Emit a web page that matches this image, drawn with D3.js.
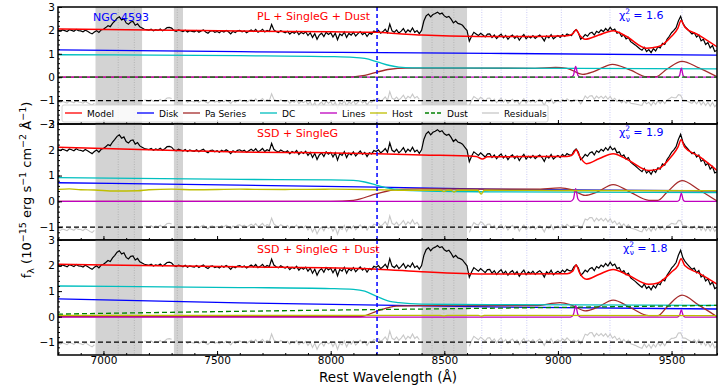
<!DOCTYPE html>
<html>
<head>
<meta charset="utf-8">
<script src="https://cdn.jsdelivr.net/npm/d3@7"></script>
<style>
  body { margin: 0; background: #fff; }
  text { font-family: "DejaVu Sans", sans-serif; }
</style>
</head>
<body>
<div id="chart"></div>
<script>
// observed spectrum, 10 A steps from 6800 A
var fluxStart = 6800, fluxStep = 10;
var flux = [
  2.00,1.97,2.02,1.99,1.95,2.03,2.00,1.96,2.04,1.99,
  1.98,1.94,2.01,1.96,1.90,1.85,1.93,1.99,1.91,2.02,
  2.05,2.12,2.20,2.16,2.30,2.40,2.52,2.58,2.45,2.50,
  2.32,2.26,2.36,2.38,2.22,2.28,2.15,2.10,2.05,2.03,
  2.01,2.05,1.98,2.03,2.00,2.06,1.98,2.04,2.12,2.13,
  2.10,2.00,1.96,2.02,1.99,1.95,2.01,1.93,1.99,1.96,
  1.94,2.00,1.92,1.98,2.02,1.93,1.88,1.97,1.99,1.92,
  1.96,1.90,1.98,1.93,2.00,1.94,1.85,1.96,1.91,1.98,
  2.00,1.94,1.98,1.90,1.96,2.02,1.95,2.04,1.92,1.97,
  2.05,1.93,2.00,1.96,2.25,2.02,1.95,1.91,1.99,1.94,
  1.90,1.96,1.84,1.93,1.88,1.97,1.82,1.92,1.86,1.94,
  1.78,1.90,1.70,1.86,1.62,1.80,1.88,1.74,1.92,1.83,
  1.90,1.72,1.88,1.60,1.85,1.78,1.93,1.70,1.87,1.80,
  1.92,1.76,1.86,1.95,1.82,1.90,1.74,1.88,1.84,1.97,
  1.93,2.00,1.88,1.95,2.05,1.90,2.27,1.98,1.92,2.02,
  1.88,1.97,2.08,1.90,2.02,1.94,2.10,1.92,1.99,1.86,
  2.00,2.40,2.62,2.70,2.58,2.68,2.72,2.78,2.70,2.74,
  2.62,2.56,2.60,2.48,2.32,2.40,2.30,2.27,2.22,2.10,
  1.99,1.54,1.75,1.92,1.85,1.78,1.88,1.80,1.72,1.84,
  1.85,1.70,1.80,1.65,1.76,1.84,1.68,1.78,1.62,1.74,
  1.80,1.66,1.76,1.58,1.72,1.82,1.64,1.75,1.68,1.78,
  1.66,1.74,1.80,1.70,1.55,1.76,1.68,1.82,1.64,1.72,
  1.78,1.70,1.82,1.74,1.85,1.80,1.78,1.95,2.03,1.90,
  1.62,1.70,1.82,1.75,1.88,1.92,1.80,1.96,1.90,2.02,
  1.95,2.08,1.98,2.13,2.00,2.06,1.88,1.92,1.74,1.80,
  1.64,1.70,1.52,1.45,1.38,1.30,1.22,1.15,1.28,1.10,
  1.18,1.05,1.22,1.12,1.30,1.25,1.45,1.40,1.62,1.75,
  1.90,2.00,2.12,2.40,2.60,2.30,2.15,2.05,1.95,1.85,
  1.90,1.72,1.80,1.55,1.62,1.40,1.48,1.25,1.35,1.10,
  1.15
];

var maskBands = [[6965, 7170], [7310, 7350], [8400, 8600]];
var maskLines = [7065, 7136, 7325, 8446, 8498, 8542];
var paschenLines = [8665, 8750, 8863, 9015, 9229, 9546];
var paschenEdge = 8204;

var panelNames = ["PL + SingleG + Dust", "SSD + SingleG", "SSD + SingleG + Dust"];
var chiValues = ["1.6", "1.9", "1.8"];
var yDomains = [[-2, 3], [-1.5, 3], [-1.5, 3]];
var yTicks = [[-2, -1, 0, 1, 2, 3], [-1, 0, 1, 2, 3], [-1, 0, 1, 2, 3]];
var xTicks = [7000, 7500, 8000, 8500, 9000, 9500];

// fit components, [wavelength, flux] knots per panel
var model1 = [[6800,2.06],[7200,2.02],[7600,1.97],[8000,1.94],[8200,1.92],[8300,1.86],[8400,1.80],[8650,1.74],[8900,1.74],[9040,1.77],[9065,1.85],[9080,2.03],[9095,1.80],[9120,1.62],[9180,1.80],[9243,1.99],[9300,1.75],[9390,1.24],[9440,1.30],[9500,1.75],[9528,2.10],[9542,2.42],[9558,2.15],[9620,1.80],[9700,1.30]];
var disk1 = [[6800,1.17],[7600,1.09],[8700,1.02],[9700,0.94]];
var dc1 = [[6800,0.96],[7600,0.92],[8000,0.88],[8100,0.85],[8150,0.80],[8204,0.66],[8260,0.50],[8300,0.43],[8360,0.40],[9700,0.36]];
var pa1 = [[6800,0],[8050,0],[8150,0.08],[8204,0.22],[8260,0.34],[8330,0.39],[8900,0.38],[8990,0.42],[9040,0.38],[9110,0.12],[9160,0.25],[9240,0.55],[9320,0.30],[9390,0.02],[9430,0.02],[9480,0.35],[9546,0.68],[9620,0.40],[9700,0.02]];
var lines1 = [[6800,0],[9055,0],[9068,0.08],[9078,0.46],[9088,0.08],[9100,0],[9525,0],[9535,0.07],[9543,0.39],[9551,0.07],[9560,0],[9700,0]];
var dust1 = [[6800,0],[9700,0]];

var model2 = [[6800,2.10],[7200,2.00],[7600,1.91],[8000,1.88],[8204,1.85],[8400,1.80],[8640,1.74],[8668,1.64],[8690,1.73],[9040,1.74],[9065,1.82],[9080,2.00],[9095,1.75],[9125,1.46],[9180,1.65],[9243,1.85],[9310,1.60],[9400,1.20],[9440,1.25],[9500,1.75],[9528,2.10],[9542,2.39],[9558,2.10],[9620,1.75],[9700,1.20]];
var disk2 = [[6800,0.72],[7600,0.63],[8204,0.55],[8700,0.47],[9700,0.40]];
var dc2 = [[6800,0.92],[7600,0.85],[8000,0.83],[8100,0.81],[8150,0.75],[8204,0.62],[8260,0.50],[8300,0.45],[8360,0.42],[8700,0.37],[9700,0.34]];
var pa2 = [[6800,0],[8000,0],[8100,0.04],[8204,0.30],[8290,0.46],[8400,0.48],[8900,0.47],[9010,0.52],[9060,0.45],[9120,0.23],[9170,0.35],[9243,0.65],[9320,0.35],[9400,0.04],[9440,0.04],[9480,0.35],[9546,0.80],[9620,0.45],[9700,0.01]];
var lines2 = [[6800,0],[9055,0],[9068,0.09],[9078,0.49],[9088,0.09],[9100,0],[9525,0],[9535,0.06],[9543,0.32],[9551,0.06],[9560,0],[9700,0]];
var host2 = [[6800,0.46],[6850,0.48],[6900,0.45],[6960,0.44],[7050,0.40],[7150,0.41],[7200,0.45],[7300,0.47],[7400,0.45],[7600,0.47],[7800,0.46],[8000,0.47],[8200,0.45],[8300,0.43],[8485,0.43],[8498,0.38],[8512,0.43],[8530,0.43],[8542,0.36],[8556,0.43],[8648,0.43],[8662,0.28],[8676,0.43],[9000,0.42],[9700,0.41]];

var model3 = [[6800,2.05],[7600,1.95],[8204,1.86],[8400,1.76],[8700,1.67],[9040,1.68],[9065,1.78],[9080,2.02],[9095,1.72],[9125,1.46],[9180,1.65],[9243,1.85],[9310,1.62],[9400,1.27],[9440,1.32],[9500,1.75],[9528,2.00],[9542,2.27],[9558,2.00],[9620,1.70],[9700,1.27]];
var disk3 = [[6800,0.70],[7600,0.54],[8700,0.38],[9700,0.30]];
var dc3 = [[6800,1.20],[7600,1.14],[8000,1.10],[8100,1.07],[8150,1.00],[8204,0.79],[8260,0.60],[8300,0.55],[8400,0.49],[8700,0.47],[9700,0.44]];
var pa3 = [[6800,0],[8130,0],[8204,0.22],[8290,0.41],[8400,0.43],[8900,0.43],[9010,0.55],[9060,0.45],[9120,0.23],[9170,0.35],[9243,0.65],[9320,0.35],[9400,0.04],[9440,0.04],[9480,0.38],[9546,0.84],[9620,0.45],[9700,0]];
var lines3 = [[6800,-0.02],[9055,-0.02],[9068,0.08],[9078,0.43],[9088,0.08],[9100,-0.02],[9525,-0.02],[9535,0.05],[9543,0.26],[9551,0.05],[9560,-0.02],[9700,-0.02]];
var host3 = [[6800,0.05],[8480,0.05],[8498,0.03],[8515,0.05],[8650,0.05],[8662,0.02],[8675,0.05],[9700,0.04]];
var dust3 = [[6800,0.10],[7600,0.21],[8700,0.33],[9700,0.44]];

var legendNames = ["Model", "Disk", "Pa Series", "DC", "Lines", "Host", "Dust", "Residuals"];
var legendColors = ["#ff0000", "#0000ff", "#a52a2a", "#00bfbf", "#bf00bf", "#bfbf00", "#008000", "#c8c8c8"];

var panels = [
  {model: model1, disk: disk1, dc: dc1, pa: pa1, lines: lines1, host: null, dust: dust1},
  {model: model2, disk: disk2, dc: dc2, pa: pa2, lines: lines2, host: host2, dust: null},
  {model: model3, disk: disk3, dc: dc3, pa: pa3, lines: lines3, host: host3, dust: dust3}
];

var width = 725, height = 387;
var panelTop = [7, 124, 240];
var panelBottom = [124, 240, 355];

var svg = d3.select("#chart").append("svg")
    .attr("width", width)
    .attr("height", height);

var x = d3.scaleLinear().domain([6800, 9700]).range([58, 717]);

var spectrum = flux.map(function(f, i) { return [fluxStart + i * fluxStep, f]; });

function masked(w) {
  return maskBands.some(function(b) { return w >= b[0] && w <= b[1]; });
}

panels.forEach(function(p, i) {
  var y = d3.scaleLinear().domain(yDomains[i]).range([panelBottom[i], panelTop[i]]);
  var g = svg.append("g");

  g.append("clipPath").attr("id", "clip" + i)
    .append("rect")
      .attr("x", x.range()[0]).attr("y", panelTop[i])
      .attr("width", x.range()[1] - x.range()[0])
      .attr("height", panelBottom[i] - panelTop[i]);

  var plot = g.append("g").attr("clip-path", "url(#clip" + i + ")");

  // masked regions
  plot.selectAll(".band").data(maskBands).enter().append("rect")
      .attr("x", function(d) { return x(d[0]); })
      .attr("width", function(d) { return x(d[1]) - x(d[0]); })
      .attr("y", panelTop[i])
      .attr("height", panelBottom[i] - panelTop[i])
      .attr("fill", "#d3d3d3");

  plot.selectAll(".mline").data(maskLines).enter().append("line")
      .attr("x1", function(d) { return x(d); }).attr("x2", function(d) { return x(d); })
      .attr("y1", panelTop[i]).attr("y2", panelBottom[i])
      .attr("stroke", "#a0a0a0").attr("stroke-width", 0.6)
      .attr("stroke-dasharray", "1,1.5");

  plot.selectAll(".pline").data(paschenLines).enter().append("line")
      .attr("x1", function(d) { return x(d); }).attr("x2", function(d) { return x(d); })
      .attr("y1", panelTop[i]).attr("y2", panelBottom[i])
      .attr("stroke", "#b4b4f0").attr("stroke-width", 0.7)
      .attr("stroke-dasharray", "1,1.5");

  var line = d3.line()
      .x(function(d) { return x(d[0]); })
      .y(function(d) { return y(d[1]); })
      .curve(d3.curveMonotoneX);

  var rawLine = d3.line()
      .defined(function(d) { return d[1] !== null; })
      .x(function(d) { return x(d[0]); })
      .y(function(d) { return y(d[1]); });

  // residuals = data - model, offset to -1
  var modelAt = d3.scaleLinear()
      .domain(p.model.map(function(d) { return d[0]; }))
      .range(p.model.map(function(d) { return d[1]; }));
  var resid = spectrum.map(function(d) {
    return [d[0], masked(d[0]) ? null : d[1] - modelAt(d[0]) - 1];
  });

  plot.append("path").datum(resid)
      .attr("d", rawLine).attr("fill", "none")
      .attr("stroke", "#c8c8c8").attr("stroke-width", 1.1);

  plot.append("line")
      .attr("x1", x.range()[0]).attr("x2", x.range()[1])
      .attr("y1", y(-1)).attr("y2", y(-1))
      .attr("stroke", "#000").attr("stroke-width", 1.2)
      .attr("stroke-dasharray", "5,3");

  plot.append("path").datum(spectrum)
      .attr("d", rawLine).attr("fill", "none")
      .attr("stroke", "#000").attr("stroke-width", 1.2);

  var comps = [
    [p.disk, legendColors[1], null],
    [p.pa, legendColors[2], null],
    [p.dc, legendColors[3], null],
    [p.lines, legendColors[4], null],
    [p.host, legendColors[5], null],
    [p.dust, legendColors[6], "5,3"],
    [p.model, legendColors[0], null]
  ];
  comps.forEach(function(c) {
    if (!c[0]) return;
    plot.append("path").datum(c[0])
        .attr("d", line).attr("fill", "none")
        .attr("stroke", c[1]).attr("stroke-width", c[1] === "#ff0000" ? 1.5 : 1.3)
        .attr("stroke-dasharray", c[2]);
  });

  // Paschen edge
  plot.append("line")
      .attr("x1", x(paschenEdge)).attr("x2", x(paschenEdge))
      .attr("y1", panelTop[i]).attr("y2", panelBottom[i])
      .attr("stroke", "#0000ff").attr("stroke-width", 1.5)
      .attr("stroke-dasharray", "4,3");

  // axes, ticks inward
  var yMinor = d3.range(Math.ceil(yDomains[i][0] / 0.2) * 0.2, yDomains[i][1] + 0.001, 0.2);
  g.append("g").attr("transform", "translate(" + x.range()[0] + ",0)")
      .call(d3.axisLeft(y).tickValues(yMinor).tickSize(-2).tickFormat(""))
      .call(function(a) { a.select(".domain").remove(); });
  g.append("g").attr("transform", "translate(" + x.range()[0] + ",0)")
      .call(d3.axisLeft(y).tickValues(yTicks[i]).tickSize(-4).tickPadding(3)
        .tickFormat(function(d) { return d < 0 ? "\u2212" + Math.abs(d) : d; }))
      .call(function(a) {
        a.select(".domain").remove();
        a.selectAll("text").attr("font-size", 10.5).attr("fill", "#000");
      });

  var xMinor = d3.range(6800, 9701, 100);
  g.append("g").attr("transform", "translate(0," + panelBottom[i] + ")")
      .call(d3.axisBottom(x).tickValues(xMinor).tickSize(-2).tickFormat(""))
      .call(function(a) { a.select(".domain").remove(); });
  g.append("g").attr("transform", "translate(0," + panelBottom[i] + ")")
      .call(d3.axisBottom(x).tickValues(xTicks).tickSize(-4).tickPadding(2)
        .tickFormat(i === 2 ? d3.format("d") : ""))
      .call(function(a) {
        a.select(".domain").remove();
        a.selectAll("text").attr("font-size", 10.5).attr("fill", "#000");
      });

  g.append("rect")
      .attr("x", x.range()[0]).attr("y", panelTop[i])
      .attr("width", x.range()[1] - x.range()[0])
      .attr("height", panelBottom[i] - panelTop[i])
      .attr("fill", "none").attr("stroke", "#000").attr("stroke-width", 1.5);

  // labels
  g.append("text")
      .attr("x", 257).attr("y", panelTop[i] + 13)
      .attr("font-size", 11).attr("fill", "#ff0000")
      .text(panelNames[i]);

  var chi = g.append("text")
      .attr("x", 619 + (i === 2 ? 4 : 0)).attr("y", panelTop[i] + 12)
      .attr("font-size", 11).attr("fill", "#0000ff");
  chi.append("tspan").text("\u03c7");
  chi.append("tspan").attr("font-size", 7.5).attr("dy", -5).text("2");
  chi.append("tspan").attr("font-size", 7.5).attr("dx", -4.5).attr("dy", 8).text("\u03bd");
  chi.append("tspan").attr("dy", -3).text(" = " + chiValues[i]);
});

svg.append("text")
    .attr("x", 121).attr("y", 21)
    .attr("text-anchor", "middle")
    .attr("font-size", 11).attr("fill", "#0000ff")
    .text("NGC 4593");

// legend
var legend = svg.append("g");
legend.append("rect")
    .attr("x", 62).attr("y", 105).attr("width", 486).attr("height", 17)
    .attr("rx", 2).attr("fill", "#fff").attr("fill-opacity", 0.85)
    .attr("stroke", "#cccccc").attr("stroke-width", 0.8);
var legendX = [65, 137, 183, 260, 320, 370, 425, 482];
legendNames.forEach(function(name, k) {
  legend.append("line")
      .attr("x1", legendX[k]).attr("x2", legendX[k] + 17)
      .attr("y1", 113).attr("y2", 113)
      .attr("stroke", legendColors[k]).attr("stroke-width", 1.3)
      .attr("stroke-dasharray", name === "Dust" ? "4,2" : null);
  legend.append("text")
      .attr("x", legendX[k] + 22).attr("y", 116.5)
      .attr("font-size", 9).attr("fill", "#000")
      .text(name);
});

// axis titles
svg.append("text")
    .attr("x", 388).attr("y", 382)
    .attr("text-anchor", "middle")
    .attr("font-size", 13.5)
    .text("Rest Wavelength (\u00c5)");

var yl = svg.append("text")
    .attr("transform", "translate(31,190) rotate(-90)")
    .attr("text-anchor", "middle")
    .attr("font-size", 13);
var parts = [["f", 0], ["\u03bb", 1], [" (10", 0], ["\u221215", 2], [" erg s", 0], ["\u22121", 2],
             [" cm", 0], ["\u22122", 2], [" \u00c5", 0], ["\u22121", 2], [")", 0]];
var shift = 0;
parts.forEach(function(pt) {
  var target = pt[1] === 1 ? 3 : pt[1] === 2 ? -5 : 0;
  yl.append("tspan")
      .attr("dy", target - shift)
      .attr("font-size", pt[1] ? 9.5 : 13)
      .text(pt[0]);
  shift = target;
});
</script>
</body>
</html>
